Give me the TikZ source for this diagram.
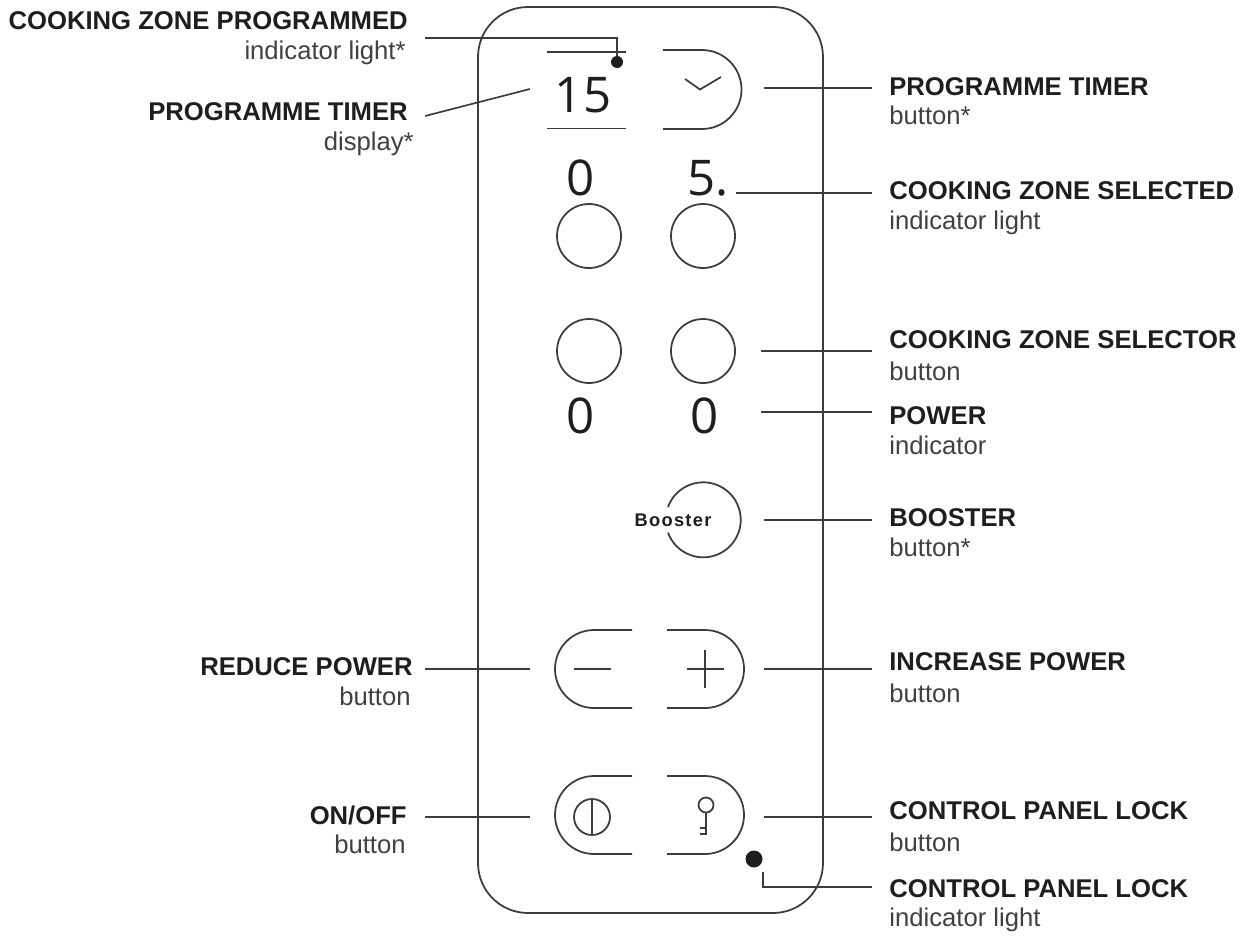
\documentclass[tikz,border=0pt]{standalone}
\usepackage{fontspec}
\setmainfont{Liberation Sans}
\newfontfamily\digitfont{Open Sans}
\newfontfamily\boosterfont[LetterSpace=7]{Liberation Sans}
\definecolor{panelgrey}{HTML}{3C3C3C}
\definecolor{inkblack}{HTML}{1E1E1E}
\tikzset{
  outline/.style={draw=panelgrey, line width=1pt},
  leader/.style={draw=panelgrey, line width=0.95pt},
  title/.style={inner sep=0pt, text=inkblack, font=\fontsize{14.6}{16}\selectfont\bfseries},
  sub/.style={inner sep=0pt, text=inkblack!85!white, font=\fontsize{14.6}{16}\selectfont},
  digit/.style={inner sep=0pt, text=inkblack, font=\fontsize{28}{32}\digitfont},
  lamp/.style={circle, fill=inkblack, inner sep=0pt}
}
\begin{document}
\begin{tikzpicture}[x=0.02cm,y=-0.02cm]

\useasboundingbox (0,0) rectangle (1243,940);

% panel outline
\draw[outline, rounded corners=1cm] (478,7) rectangle (823,913);

% programme timer display and button
\draw[outline] (547,52)--(626,52);
\draw[outline] (547,128.5)--(626,128.5);
\node[digit] (timerdigits) at (583,95) {15};
\node[lamp, minimum size=0.24cm] (programmedlamp) at (617,62) {};
\draw[outline] (663,50)--(702,50) arc (-90:90:39.5)--(663,129);
\draw[outline] (685,79)--(700,89.5)--(721,77);

% upper zone buttons
\node[digit] (zonedigita) at (581,178) {0};
\node[digit] (zonedigitb) at (708,178) {5.};
\draw[outline] (589,236) circle (32);
\draw[outline] (703,236) circle (32);

% lower zone buttons
\draw[outline] (589,351) circle (32);
\draw[outline] (703,351) circle (32);
\node[digit] (zonedigitc) at (581,416) {0};
\node[digit] (zonedigitd) at (705,416) {0};

% booster button
\draw[outline] (668,507) arc (-160:160:37.5);
\node[inner sep=0pt, text=inkblack, font=\fontsize{10.4}{12}\boosterfont\bfseries] (boosterlabel) at (673,520) {Booster};

% power buttons
\draw[outline] (632,630)--(594,630) arc (270:90:39)--(632,708);
\draw[outline] (667,630)--(705,630) arc (-90:90:39)--(667,708);
\draw[outline] (574,669)--(611,669);
\draw[outline] (687,669)--(724,669);
\draw[outline] (705,650)--(705,688);

% on/off and lock buttons
\draw[outline] (632,776)--(594,776) arc (270:90:39)--(632,854);
\draw[outline] (667,776)--(705,776) arc (-90:90:39)--(667,854);
\draw[outline] (592,817) circle (18);
\draw[outline] (592,799)--(592,835);
\draw[outline] (706,805) circle (7.5);
\draw[outline] (706,812.5)--(706,834)--(700,834);
\draw[outline] (700,828)--(706,828);
\node[lamp, minimum size=0.34cm] (locklamp) at (754,859) {};

% leader ends
\coordinate (a1) at (425,38);
\coordinate (a2) at (617,38);
\coordinate (b1) at (425,116);
\coordinate (b2) at (530,89);
\coordinate (c1) at (764,88);
\coordinate (c2) at (872,88);
\coordinate (d1) at (736,193);
\coordinate (d2) at (872,193);
\coordinate (e1) at (761,351);
\coordinate (e2) at (872,351);
\coordinate (f1) at (761,412);
\coordinate (f2) at (872,412);
\coordinate (g1) at (764,520);
\coordinate (g2) at (872,520);
\coordinate (h1) at (764,669);
\coordinate (h2) at (872,669);
\coordinate (i1) at (425,669);
\coordinate (i2) at (530,669);
\coordinate (j1) at (425,817);
\coordinate (j2) at (530,817);
\coordinate (k1) at (764,817);
\coordinate (k2) at (872,817);
\coordinate (l1) at (763,872);
\coordinate (l2) at (763,887);
\coordinate (l3) at (872,887);

% leaders
\draw[leader] (a1)--(a2)--(programmedlamp);
\draw[leader] (b1)--(b2);
\draw[leader] (c1)--(c2);
\draw[leader] (d1)--(d2);
\draw[leader] (e1)--(e2);
\draw[leader] (f1)--(f2);
\draw[leader] (g1)--(g2);
\draw[leader] (h1)--(h2);
\draw[leader] (i1)--(i2);
\draw[leader] (j1)--(j2);
\draw[leader] (k1)--(k2);
\draw[leader] (l1)--(l2)--(l3);

% left labels
\node[title, anchor=base east] (programmedtitle) at (408,29) {COOKING ZONE PROGRAMMED};
\node[sub, anchor=base east] (programmedsub) at (406,59) {indicator light*};
\node[title, anchor=base east] (displaytitle) at (408,120) {PROGRAMME TIMER};
\node[sub, anchor=base east] (displaysub) at (414,150) {display*};
\node[title, anchor=base east] (reducetitle) at (413,675) {REDUCE POWER};
\node[sub, anchor=base east] (reducesub) at (411,705) {button};
\node[title, anchor=base east] (onofftitle) at (407,824) {ON/OFF};
\node[sub, anchor=base east] (onoffsub) at (406,853) {button};

% right labels
\node[title, anchor=base west] (timertitle) at (889,95) {PROGRAMME TIMER};
\node[sub, anchor=base west] (timersub) at (889,124) {button*};
\node[title, anchor=base west] (selectedtitle) at (889,199) {COOKING ZONE SELECTED};
\node[sub, anchor=base west] (selectedsub) at (889,229) {indicator light};
\node[title, anchor=base west] (selectortitle) at (889,348) {COOKING ZONE SELECTOR};
\node[sub, anchor=base west] (selectorsub) at (889,380) {button};
\node[title, anchor=base west] (powertitle) at (889,424) {POWER};
\node[sub, anchor=base west] (powersub) at (889,454) {indicator};
\node[title, anchor=base west] (boostertitle) at (889,526) {BOOSTER};
\node[sub, anchor=base west] (boostersub) at (889,556) {button*};
\node[title, anchor=base west] (increasetitle) at (889,670) {INCREASE POWER};
\node[sub, anchor=base west] (increasesub) at (889,702) {button};
\node[title, anchor=base west] (locktitle) at (889,819) {CONTROL PANEL LOCK};
\node[sub, anchor=base west] (locksub) at (889,851) {button};
\node[title, anchor=base west] (lamptitle) at (889,897) {CONTROL PANEL LOCK};
\node[sub, anchor=base west] (lampsub) at (889,926) {indicator light};

\end{tikzpicture}
\end{document}
